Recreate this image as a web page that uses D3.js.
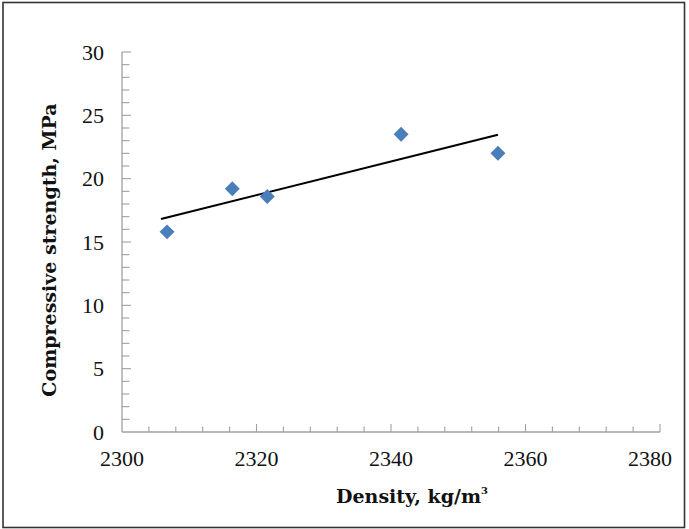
<!DOCTYPE html>
<html>
<head>
<meta charset="utf-8">
<script src="https://cdn.jsdelivr.net/npm/d3@7"></script>
<style>
  body { margin: 0; background: #fff; }
  .tick-label { font-family: "Liberation Serif", "Times New Roman", Times, serif; font-size: 22px; fill: #111; }
  .axis-title { font-family: "DejaVu Serif", serif; font-weight: bold; font-size: 19px; fill: #111; }
</style>
</head>
<body>
<svg id="chart" width="689" height="529"></svg>
<script>
// density (kg/m3) vs compressive strength (MPa)
const density = [2306.7, 2316.4, 2321.6, 2341.5, 2355.9];
const strength = [15.8, 19.2, 18.6, 23.5, 22.0];
const trendRange = [2305.8, 2355.9];
const xTicks = [2300, 2320, 2340, 2360, 2380];
const yTicks = [0, 5, 10, 15, 20, 25, 30];

const svg = d3.select('#chart');

// outer frame
svg.append('rect')
  .attr('x', 3).attr('y', 2.5)
  .attr('width', 681.5).attr('height', 525)
  .attr('fill', 'none')
  .attr('stroke', '#333')
  .attr('stroke-width', 1.6);

const x = d3.scaleLinear().domain([2300, 2380]).range([122, 660]);
const y = d3.scaleLinear().domain([0, 30]).range([432, 52]);
const axisColor = '#a0a0a0';

// y axis: minor every 1, major every 5, ticks pointing inward
const yAxis = svg.append('g').attr('transform', `translate(${x(2300)},0)`);
yAxis.append('line')
  .attr('y1', y(0)).attr('y2', y(30))
  .attr('stroke', axisColor).attr('stroke-width', 1.3);
yAxis.selectAll('.ytick')
  .data(d3.range(1, 31))
  .join('line')
  .attr('class', 'ytick')
  .attr('x1', 0).attr('x2', d => d % 5 === 0 ? 9 : 7.5)
  .attr('y1', d => y(d)).attr('y2', d => y(d))
  .attr('stroke', axisColor).attr('stroke-width', 1.1);
svg.append('g').selectAll('text')
  .data(yTicks)
  .join('text')
  .attr('class', 'tick-label')
  .attr('x', 104)
  .attr('y', d => y(d))
  .attr('dy', '0.35em')
  .attr('text-anchor', 'end')
  .text(d => d);

// x axis: minor every 4, major every 20
const xAxis = svg.append('g').attr('transform', `translate(0,${y(0)})`);
xAxis.append('line')
  .attr('x1', x(2300)).attr('x2', x(2380))
  .attr('stroke', axisColor).attr('stroke-width', 1.3);
xAxis.selectAll('.xtick')
  .data(d3.range(2304, 2381, 4))
  .join('line')
  .attr('class', 'xtick')
  .attr('x1', d => x(d)).attr('x2', d => x(d))
  .attr('y1', 0).attr('y2', d => (d - 2300) % 20 === 0 ? -8 : -5.5)
  .attr('stroke', axisColor).attr('stroke-width', 1.1);
svg.append('g').selectAll('text')
  .data(xTicks)
  .join('text')
  .attr('class', 'tick-label')
  .attr('x', d => x(d))
  .attr('dx', (d, i) => i === xTicks.length - 1 ? -10 : 0)
  .attr('y', 466)
  .attr('text-anchor', 'middle')
  .text(d => d);

// linear trendline (least squares)
const mx = d3.mean(density), my = d3.mean(strength);
const slope = d3.sum(density, (d, i) => (d - mx) * (strength[i] - my)) /
  d3.sum(density, d => (d - mx) * (d - mx));
const icpt = my - slope * mx;
svg.append('path')
  .datum(trendRange.map(d => [d, icpt + slope * d]))
  .attr('d', d3.line().x(d => x(d[0])).y(d => y(d[1])))
  .attr('fill', 'none')
  .attr('stroke', '#000')
  .attr('stroke-width', 2);

// points as diamonds
const diamond = d3.symbol().type(d3.symbolSquare).size(112);
svg.append('g').selectAll('path')
  .data(density.map((d, i) => [d, strength[i]]))
  .join('path')
  .attr('d', diamond)
  .attr('transform', d => `translate(${x(d[0])},${y(d[1])}) rotate(45)`)
  .attr('fill', '#4a7ebb');

// axis titles
svg.append('text')
  .attr('class', 'axis-title')
  .attr('transform', 'translate(56,250) rotate(-90)')
  .attr('text-anchor', 'middle')
  .text('Compressive strength, MPa');

const xt = svg.append('text')
  .attr('class', 'axis-title')
  .attr('x', 412).attr('y', 503)
  .attr('text-anchor', 'middle');
xt.append('tspan').text('Density, kg/m');
xt.append('tspan').attr('font-size', '10px').attr('dy', '-9').text('3');
</script>
</body>
</html>
